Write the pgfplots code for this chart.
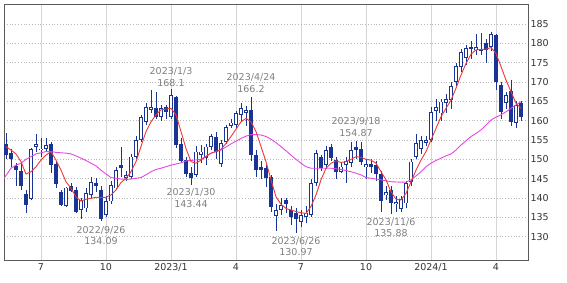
\documentclass[border=0pt]{standalone}
\usepackage{pgfplots}
\pgfplotsset{compat=1.18}
\usepackage{pgfplotstable}
\usepackage{fontspec}
\setmainfont{DejaVu Sans}
\definecolor{candle}{RGB}{26,52,150}
\definecolor{maS}{RGB}{238,55,55}
\definecolor{maL}{RGB}{230,70,230}
\definecolor{lbl}{RGB}{128,128,128}
\definecolor{framec}{RGB}{90,90,90}

% weekly candles, w = weeks from 2022/7/4
\pgfplotstableread{
w O H L C
-7 154.0 156.7 150.0 151.2
-6 151.7 152.6 148.0 150.1
-5 148.3 149.0 143.0 147.2
-4 147.1 149.0 142.1 143.2
-3 141.0 142.1 136.0 138.2
-2 139.8 153.0 139.5 152.7
-1 153.3 156.5 152.0 154.0
0 152.3 155.4 150.7 152.8
1 152.7 155.4 152.0 153.6
2 154.0 154.6 146.4 148.5
3 148.7 149.4 142.5 143.5
4 141.6 142.1 137.9 138.2
5 138.0 142.9 137.8 142.7
6 143.2 143.8 141.6 141.9
7 142.2 142.8 136.0 136.5
8 137.0 140.0 134.5 139.5
9 137.3 142.5 136.5 141.2
10 140.8 145.5 140.0 144.2
11 143.8 145.2 141.5 143.2
12 142.1 143.0 134.09 134.5
13 135.6 140.5 135.2 139.1
14 139.1 144.5 138.5 143.4
15 142.5 148.0 142.0 147.2
16 148.5 153.3 145.5 147.7
17 145.2 147.0 144.5 146.0
18 145.5 151.5 145.0 150.7
19 150.7 156.0 150.0 155.0
20 155.0 161.5 154.5 161.0
21 159.7 164.5 159.0 163.6
22 162.8 167.9 162.0 163.5
23 163.4 167.5 160.5 160.9
24 160.9 164.0 160.0 163.2
25 163.5 164.0 160.5 162.3
26 161.0 168.1 160.5 166.6
27 166.0 166.5 153.0 153.7
28 154.0 155.5 149.0 149.7
29 149.8 150.5 145.5 146.2
30 146.4 148.0 143.44 145.3
31 146.0 153.5 145.5 152.0
32 151.2 153.7 149.0 152.0
33 150.3 154.0 148.5 153.3
34 153.3 156.5 152.5 156.0
35 155.9 157.0 150.0 152.0
36 148.8 155.0 148.0 154.1
37 154.6 159.0 154.0 158.4
38 158.7 160.5 158.0 159.5
39 158.9 162.5 158.0 162.0
40 161.5 164.5 160.0 163.3
41 162.1 163.8 158.6 162.8
42 162.8 166.2 149.5 151.1
43 151.1 152.5 145.5 147.2
44 148.1 149.5 145.0 147.2
45 147.8 148.5 142.9 145.2
46 145.5 146.0 136.5 137.8
47 135.3 138.5 131.5 136.9
48 136.9 140.0 135.5 138.2
49 139.5 140.0 136.0 138.4
50 136.9 138.0 133.0 135.2
51 136.2 137.5 130.97 134.7
52 133.9 137.0 132.5 135.6
53 135.2 138.0 133.5 136.2
54 135.6 145.0 135.0 143.9
55 143.9 152.5 143.0 151.6
56 150.7 151.0 147.0 147.7
57 148.5 153.5 147.5 152.4
58 153.3 154.0 149.5 150.3
59 149.8 150.5 145.0 146.8
60 146.8 149.0 146.5 148.1
61 148.5 150.5 144.0 149.5
62 149.0 154.5 148.0 152.4
63 153.3 154.87 150.0 152.5
64 152.6 154.5 148.5 149.4
65 148.0 150.0 145.0 148.8
66 148.9 150.0 146.5 148.1
67 148.5 149.5 144.5 146.2
68 146.2 147.0 136.5 139.1
69 140.7 143.0 139.5 141.6
70 142.1 143.0 135.88 138.6
71 138.4 140.5 136.5 139.0
72 137.1 140.5 136.5 139.7
73 138.6 144.5 137.5 143.8
74 144.2 150.0 143.0 149.4
75 150.7 156.5 150.0 154.1
76 152.8 156.0 151.5 155.0
77 154.3 156.0 153.5 155.0
78 155.0 163.5 154.5 162.3
79 162.5 165.5 160.0 163.5
80 161.9 165.5 160.0 164.9
81 164.5 167.0 162.0 165.5
82 165.3 170.0 163.0 169.0
83 170.1 175.0 169.0 174.1
84 174.0 178.5 172.5 177.8
85 176.2 179.5 174.5 178.8
86 179.0 180.5 176.0 178.6
87 178.3 182.5 177.0 179.0
88 178.6 182.7 177.0 178.1
89 180.0 181.0 175.0 178.3
90 179.1 183.0 178.0 182.4
91 182.2 182.5 168.0 170.1
92 169.2 170.0 160.5 162.3
93 164.5 167.5 163.0 166.6
94 167.8 170.5 158.5 159.7
95 159.5 165.0 158.0 164.0
96 164.5 165.0 160.0 161.0
}\ohlc

\pgfplotstableread{
w v
-7 153.3
-6 152.4
-5 151.4
-4 149.4
-3 146.2
-2 146.8
-1 148.1
0 149.8
1 151.1
2 152.0
3 149.8
4 147.2
5 144.2
6 142.5
7 140.3
8 139.2
9 139.7
10 139.9
11 140.2
12 140.1
13 140.2
14 140.8
15 142.1
16 144.0
17 145.1
18 146.8
19 149.4
20 153.3
21 157.2
22 159.7
23 161.5
24 162.8
25 163.0
26 163.2
27 161.5
28 157.2
29 152.8
30 149.4
31 149.0
32 149.8
33 150.7
34 151.6
35 152.0
36 152.6
37 154.1
38 155.9
39 157.8
40 159.7
41 160.6
42 159.7
43 157.2
44 153.3
45 149.4
46 144.7
47 140.3
48 138.4
49 137.3
50 136.9
51 136.5
52 136.2
53 136.0
54 137.8
55 140.8
56 144.7
57 147.7
58 149.0
59 149.6
60 149.2
61 149.4
62 150.0
63 150.7
64 150.5
65 150.0
66 149.8
67 149.0
68 146.8
69 144.7
70 141.6
71 139.7
72 139.5
73 141.2
74 144.2
75 147.2
76 149.8
77 152.0
78 155.0
79 158.0
80 161.0
81 163.2
82 165.3
83 168.4
84 171.8
85 174.8
86 177.2
87 178.3
88 178.4
89 178.5
90 178.9
91 177.4
92 174.0
93 170.5
94 167.5
95 164.5
96 163.2
}\maShort

\pgfplotstableread{
w v
-7.4 145.1
-6 147.7
-5 148.5
-4 149.0
-3 150.0
-2 150.7
-1 151.4
0 151.7
1 152.0
2 152.0
3 151.8
4 151.7
5 151.6
6 151.4
7 150.9
8 150.3
9 149.7
10 149.0
11 148.3
12 147.2
13 146.2
14 145.3
15 145.1
16 144.9
17 144.8
18 144.9
19 145.1
20 145.3
21 146.0
22 146.8
23 147.4
24 147.7
25 148.1
26 148.5
27 148.8
28 149.1
29 149.6
30 149.7
32 150.0
34 151.6
36 152.4
38 154.0
40 155.4
41 156.0
42 156.4
43 156.4
44 156.3
45 155.9
46 155.2
47 154.3
48 153.3
49 152.2
50 151.1
51 150.0
52 149.0
53 148.1
54 147.7
55 147.7
58 147.7
60 147.4
61 147.1
62 146.8
63 146.4
64 146.0
65 145.3
66 145.1
68 144.7
70 144.2
72 144.1
73 144.1
74 144.7
75 145.7
76 146.8
77 148.1
78 149.0
79 149.7
80 150.3
81 150.9
82 151.4
83 152.4
84 153.7
85 154.8
86 155.9
87 156.7
88 157.6
89 158.9
90 160.2
91 160.9
92 161.5
93 162.3
94 163.2
95 164.1
96 164.9
}\maLong

\begin{document}
\begin{tikzpicture}
\begin{axis}[
  scale only axis, width=524bp, height=256bp,
  xmin=-7.4, xmax=97.4, ymin=123.97, ymax=190.17,
  axis line style={framec, line width=0.9bp},
  xtick={0,13,26,39,52,65,78,91},
  xticklabels={7,10,2023/1,4,7,10,2024/1,4},
  ytick={130,135,...,185},
  yticklabel pos=right,
  tick style={draw=none},
  xmajorgrids, ymajorgrids,
  x grid style={black!16, line width=0.9bp},
  y grid style={black!28, line width=0.6bp, dash pattern=on 1bp off 1.8bp},
  ticklabel style={font=\fontsize{9.5bp}{11bp}\selectfont, text=black!80},
  yticklabel style={anchor=west, xshift=-1bp},
  /pgf/number format/assume math mode=true,
  /pgf/number format/1000 sep={},
]
% wicks
\addplot[draw=none, mark=none, forget plot,
  error bars/.cd, y dir=both, y explicit, error mark=none,
  error bar style={candle, line width=0.8bp}]
  table[x=w, y expr={(\thisrow{H}+\thisrow{L})/2}, y error expr={(\thisrow{H}-\thisrow{L})/2}] {\ohlc};
% bodies
\addplot[draw=none, mark=none, forget plot,
  error bars/.cd, y dir=both, y explicit, error mark=none,
  error bar style={candle, line width=3.9bp}]
  table[x=w, y expr={(\thisrow{O}+\thisrow{C})/2}, y error expr={max(abs(\thisrow{O}-\thisrow{C})/2,0.12)}] {\ohlc};
% hollow interior of rising candles
\addplot[draw=none, mark=none, forget plot,
  error bars/.cd, y dir=both, y explicit, error mark=none,
  error bar style={white, line width=2.3bp}]
  table[x=w, y expr={(\thisrow{O}+\thisrow{C})/2}, y error expr={max((\thisrow{C}-\thisrow{O})/2-0.2,0)}] {\ohlc};
% moving averages
\addplot[maL, line width=0.9bp, mark=none] table[x=w, y=v] {\maLong};
\addplot[maS, line width=0.9bp, mark=none] table[x=w, y=v] {\maShort};
% annotations
\begin{scope}[every node/.style={text=lbl, align=center, inner sep=0pt,
    font=\fontsize{9.5bp}{11.5bp}\selectfont}]
\node[anchor=north] at (axis cs:12,134.09) [yshift=-5bp] {2022/9/26\\134.09};
\node[anchor=south] at (axis cs:26,168.1) [yshift=3bp] {2023/1/3\\168.1};
\node[anchor=north] at (axis cs:30,143.44) [yshift=-4bp] {2023/1/30\\143.44};
\node[anchor=south] at (axis cs:42,166.2) [yshift=4bp] {2023/4/24\\166.2};
\node[anchor=north] at (axis cs:51,130.97) [yshift=-4bp] {2023/6/26\\130.97};
\node[anchor=south] at (axis cs:63,154.87) [yshift=4bp] {2023/9/18\\154.87};
\node[anchor=north] at (axis cs:70,135.88) [yshift=-4bp] {2023/11/6\\135.88};
\end{scope}
\end{axis}
\pgfresetboundingbox
\path[use as bounding box] ([shift={(-4bp,-23bp)}]current axis.south west) rectangle ++(567bp,283bp);
\end{tikzpicture}
\end{document}
